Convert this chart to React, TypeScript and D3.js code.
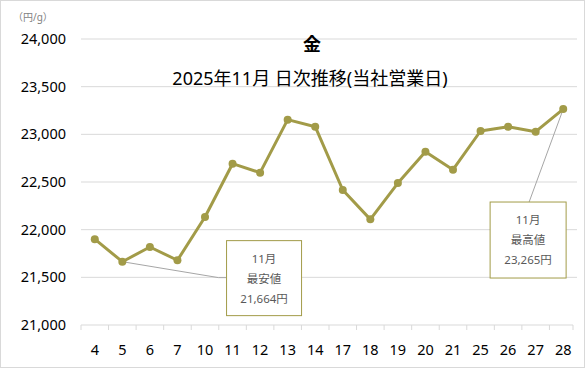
import React from "react";
import * as d3 from "d3";

const days = ["4","5","6","7","10","11","12","13","14","17","18","19","20","21","25","26","27","28"];
const prices = [21900,21664,21818,21679,22133,22692,22598,23154,23080,22416,22108,22489,22818,22629,23035,23080,23028,23265];
const yTicks = [21000,21500,22000,22500,23000,23500,24000];
const titleText = "金";
const subtitleText = "2025年11月 日次推移(当社営業日)";
const unitText = "（円/g）";
const lowLabel = ["11月","最安値","21,664円"];
const highLabel = ["11月","最高値","23,265円"];

const W = 585, H = 368;
const M = { left: 81, right: 577, top: 39, bottom: 325 };
const LINE = "#a29b48";
const FONT = "'Noto Sans', 'Noto Sans CJK JP', sans-serif";

export default function App() {
  const x = d3.scaleBand<string>().domain(days).range([M.left, M.right]);
  const y = d3.scaleLinear().domain([21000, 24000]).range([M.bottom, M.top]);
  const cx = (d: string) => (x(d) as number) + x.bandwidth() / 2;
  const line = d3.line<number>().x((_, i) => cx(days[i])).y(v => y(v));
  const fmt = d3.format(",");

  const iLow = prices.indexOf(d3.min(prices) as number);
  const iHigh = prices.indexOf(d3.max(prices) as number);
  const lowPt = [cx(days[iLow]), y(prices[iLow])];
  const highPt = [cx(days[iHigh]), y(prices[iHigh])];

  const lowBox = { x: cx("11") - 6, y: y(21885), w: 75, h: 75 };
  const highBox = { x: cx("26") - 18, y: y(22290), w: 76, h: 76 };

  const boxText = (b: any, lines: string[]) =>
    lines.map((t, i) => (
      <text key={i} x={b.x + b.w / 2} y={b.y + 22 + i * 20} textAnchor="middle"
        fontSize={11.5} fill="#595959" fontFamily={FONT}>{t}</text>
    ));

  return (
    <svg width={W} height={H} style={{ position: "absolute", left: 0, top: 0 }}>
      <rect x={0.5} y={0.5} width={W - 1} height={H - 1} fill="#fff" stroke="#d9d9d9" />
      {yTicks.map(t => (
        <g key={t}>
          {t !== 21000 && <line x1={M.left} x2={M.right} y1={y(t)} y2={y(t)} stroke="#d9d9d9" strokeWidth={1} />}
          <text x={66} y={y(t)} dy="0.35em" textAnchor="end" fontSize={14.5} fill="#000" fontFamily={FONT}>{fmt(t)}</text>
        </g>
      ))}
      <line x1={M.left} x2={M.right - 4} y1={M.bottom} y2={M.bottom} stroke="#d9d9d9" />
      {days.map((d, i) => (
        <line key={"t" + i} x1={x(d) as number} x2={x(d) as number} y1={M.bottom} y2={M.bottom + 5} stroke="#d9d9d9" />
      ))}
      <line x1={M.right - 4} x2={M.right - 4} y1={M.bottom} y2={M.bottom + 5} stroke="#d9d9d9" />
      {days.map(d => (
        <text key={d} x={cx(d)} y={350} dy="0.35em" textAnchor="middle" fontSize={14.5} fill="#000" fontFamily={FONT}>{d}</text>
      ))}
      <text x={13} y={21} fontSize={10} fill="#7f7f7f" fontFamily={FONT}>{unitText}</text>
      <text x={312} y={51} textAnchor="middle" fontSize={18} fontWeight="bold" fill="#000" fontFamily={FONT}>{titleText}</text>
      <text x={310} y={85} textAnchor="middle" fontSize={18} fill="#000" fontFamily={FONT}>{subtitleText}</text>

      <polyline points={`${lowPt[0]},${lowPt[1]} ${lowBox.x - 8},${lowBox.y + lowBox.h / 2 - 0.5} ${lowBox.x},${lowBox.y + lowBox.h / 2 - 0.5}`} fill="none" stroke="#a6a6a6" strokeWidth={1} />
      <line x1={highPt[0]} y1={highPt[1]} x2={highBox.x + 39} y2={highBox.y} stroke="#a6a6a6" strokeWidth={1} />

      <path d={line(prices) as string} fill="none" stroke={LINE} strokeWidth={3} strokeLinejoin="round" />
      {prices.map((v, i) => (
        <circle key={i} cx={cx(days[i])} cy={y(v)} r={4} fill={LINE} />
      ))}

      <rect x={lowBox.x} y={lowBox.y} width={lowBox.w} height={lowBox.h} fill="#fff" stroke={LINE} strokeWidth={1} />
      {boxText(lowBox, lowLabel)}
      <rect x={highBox.x} y={highBox.y} width={highBox.w} height={highBox.h} fill="#fff" stroke={LINE} strokeWidth={1} />
      {boxText(highBox, highLabel)}
    </svg>
  );
}
